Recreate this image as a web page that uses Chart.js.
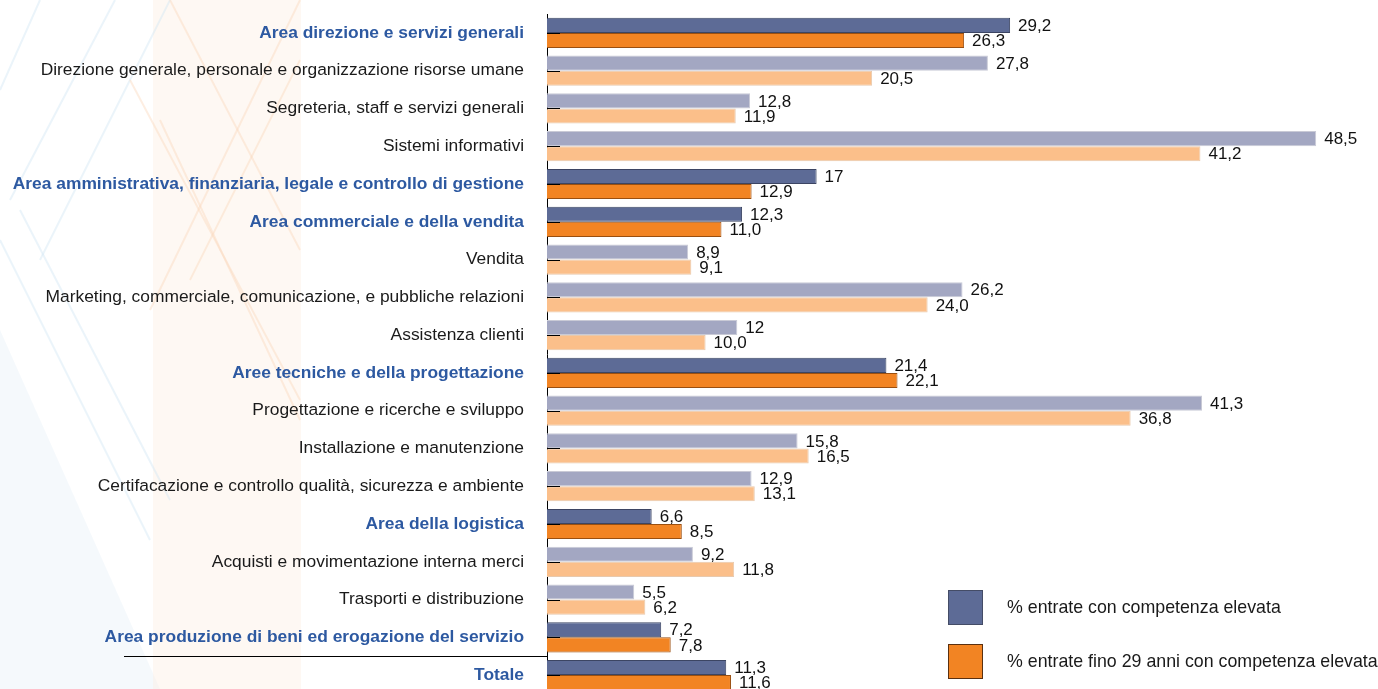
<!DOCTYPE html>
<html lang="it">
<head>
<meta charset="utf-8">
<title>Entrate con competenza elevata per area aziendale</title>
<script src="https://cdn.jsdelivr.net/npm/chart.js@4/dist/chart.umd.min.js"></script>
<style>
    html, body { margin: 0; padding: 0; background: #fff; overflow: hidden; }
    #wrap { position: relative; width: 1378px; height: 694px; }
    .legend-item { position: absolute; left: 948px; display: flex; align-items: center;
        font: 17.8px "Liberation Sans", Arial, sans-serif; color: #1a1a1a; }
    .legend-item span.box { width: 35px; height: 35px; margin-right: 24px; box-sizing: border-box; }
</style>
</head>
<body>
<div id="wrap">
    <canvas id="chart" width="1378" height="694"></canvas>
    <div class="legend-item" style="top:590px"><span class="box" style="background:#5d6b96;border:1px solid #444c66"></span>% entrate con competenza elevata</div>
    <div class="legend-item" style="top:644px"><span class="box" style="background:#f28423;border:1px solid #5a3010"></span>% entrate fino 29 anni con competenza elevata</div>
</div>
<script>
const categories = [
    'Area direzione e servizi generali',
    'Direzione generale, personale e organizzazione risorse umane',
    'Segreteria, staff e servizi generali',
    'Sistemi informativi',
    'Area amministrativa, finanziaria, legale e controllo di gestione',
    'Area commerciale e della vendita',
    'Vendita',
    'Marketing, commerciale, comunicazione, e pubbliche relazioni',
    'Assistenza clienti',
    'Aree tecniche e della progettazione',
    'Progettazione e ricerche e sviluppo',
    'Installazione e manutenzione',
    'Certifacazione e controllo qualità, sicurezza e ambiente',
    'Area della logistica',
    'Acquisti e movimentazione interna merci',
    'Trasporti e distribuzione',
    'Area produzione di beni ed erogazione del servizio',
    'Totale'
];
// true = area heading (bold blue label, darker bars)
const isArea = [true, false, false, false, true, true, false, false, false, true, false, false, false, true, false, false, true, true];

const competenzaElevata = [29.2, 27.8, 12.8, 48.5, 17, 12.3, 8.9, 26.2, 12, 21.4, 41.3, 15.8, 12.9, 6.6, 9.2, 5.5, 7.2, 11.3];
const giovaniCompetenza = [26.3, 20.5, 11.9, 41.2, 12.9, 11.0, 9.1, 24.0, 10.0, 22.1, 36.8, 16.5, 13.1, 8.5, 11.8, 6.2, 7.8, 11.6];

const FONT = '"Liberation Sans", Arial, sans-serif';
const BLUE_DARK = '#5d6b96', BLUE_LIGHT = '#a3a7c2';
const ORANGE_DARK = '#f28423', ORANGE_LIGHT = '#fbbf8a';

// faint decorative background on the left
const backdrop = {
    id: 'backdrop',
    beforeDraw(chart) {
        const c = chart.ctx;
        c.save();
        c.fillStyle = 'rgba(238,245,250,0.6)';
        c.beginPath();
        c.moveTo(0, 330); c.lineTo(160, 689); c.lineTo(0, 689); c.closePath(); c.fill();
        c.fillStyle = 'rgba(253,238,226,0.4)';
        c.fillRect(153, 0, 148, 694);
        c.lineWidth = 2;
        c.strokeStyle = 'rgba(210,230,244,0.45)';
        [[0, 90, 40, 0], [10, 200, 115, 0], [40, 260, 170, 0], [0, 240, 150, 540], [20, 210, 170, 500]].forEach(([x1, y1, x2, y2]) => {
            c.beginPath(); c.moveTo(x1, y1); c.lineTo(x2, y2); c.stroke();
        });
        c.strokeStyle = 'rgba(250,218,190,0.45)';
        [[170, 0, 300, 250], [130, 80, 300, 400], [160, 120, 300, 420], [300, 0, 150, 310], [300, 60, 190, 280]].forEach(([x1, y1, x2, y2]) => {
            c.beginPath(); c.moveTo(x1, y1); c.lineTo(x2, y2); c.stroke();
        });
        c.restore();
    }
};

// short inward ticks, value labels and separator above "Totale"
const decorations = {
    id: 'decorations',
    afterDatasetsDraw(chart) {
        const c = chart.ctx;
        const y = chart.scales.y;
        const left = chart.chartArea.left;
        c.save();
        c.strokeStyle = '#000';
        c.lineWidth = 1;
        categories.forEach((_, i) => {
            const py = Math.round(y.getPixelForValue(i)) + 0.5;
            c.beginPath(); c.moveTo(left, py); c.lineTo(left + 13, py); c.stroke();
        });
        const last = categories.length - 1;
        const sepY = Math.round((y.getPixelForValue(last - 1) + y.getPixelForValue(last)) / 2) + 0.5;
        c.beginPath(); c.moveTo(124, sepY); c.lineTo(left, sepY); c.stroke();

        c.fillStyle = '#111';
        c.font = '17px ' + FONT;
        c.textBaseline = 'middle';
        c.textAlign = 'left';
        chart.data.datasets.forEach((ds, di) => {
            chart.getDatasetMeta(di).data.forEach((bar, i) => {
                const v = ds.data[i];
                const txt = (di === 0 ? String(v) : v.toFixed(1)).replace('.', ',');
                c.fillText(txt, bar.x + 8, bar.y + 1);
            });
        });
        c.restore();
    }
};

new Chart(document.getElementById('chart').getContext('2d'), {
    type: 'bar',
    data: {
        labels: categories,
        datasets: [
            {
                label: '% entrate con competenza elevata',
                data: competenzaElevata,
                backgroundColor: isArea.map(a => a ? BLUE_DARK : BLUE_LIGHT),
                borderColor: isArea.map(a => a ? '#3c4563' : '#c9cad6'),
                borderWidth: 1,
                borderSkipped: 'left',
                categoryPercentage: 0.8,
                barPercentage: 1.0
            },
            {
                label: '% entrate fino 29 anni con competenza elevata',
                data: giovaniCompetenza,
                backgroundColor: isArea.map(a => a ? ORANGE_DARK : ORANGE_LIGHT),
                borderColor: isArea.map(a => a ? '#9a4f10' : '#e8c9ad'),
                borderWidth: 1,
                borderSkipped: 'left',
                categoryPercentage: 0.8,
                barPercentage: 1.0
            }
        ]
    },
    options: {
        indexAxis: 'y',
        responsive: false,
        animation: false,
        layout: { padding: { top: 14, right: 38, bottom: 0, left: 0 } },
        plugins: {
            legend: { display: false },
            tooltip: { enabled: false }
        },
        scales: {
            x: { display: false, min: 0, max: 50 },
            y: {
                afterFit: scale => {
                    scale.width = 547;
                    scale.paddingTop = 0;
                    scale.paddingBottom = 0;
                },
                grid: { display: false, drawTicks: false },
                border: { display: true, color: '#000', width: 1 },
                ticks: {
                    padding: 23,
                    autoSkip: false,
                    color: ctx => isArea[ctx.index] ? '#2d59a1' : '#1a1a1a',
                    font: ctx => ({ family: FONT, size: 17.4, weight: isArea[ctx.index] ? 'bold' : 'normal' })
                }
            }
        }
    },
    plugins: [backdrop, decorations]
});
</script>
</body>
</html>
